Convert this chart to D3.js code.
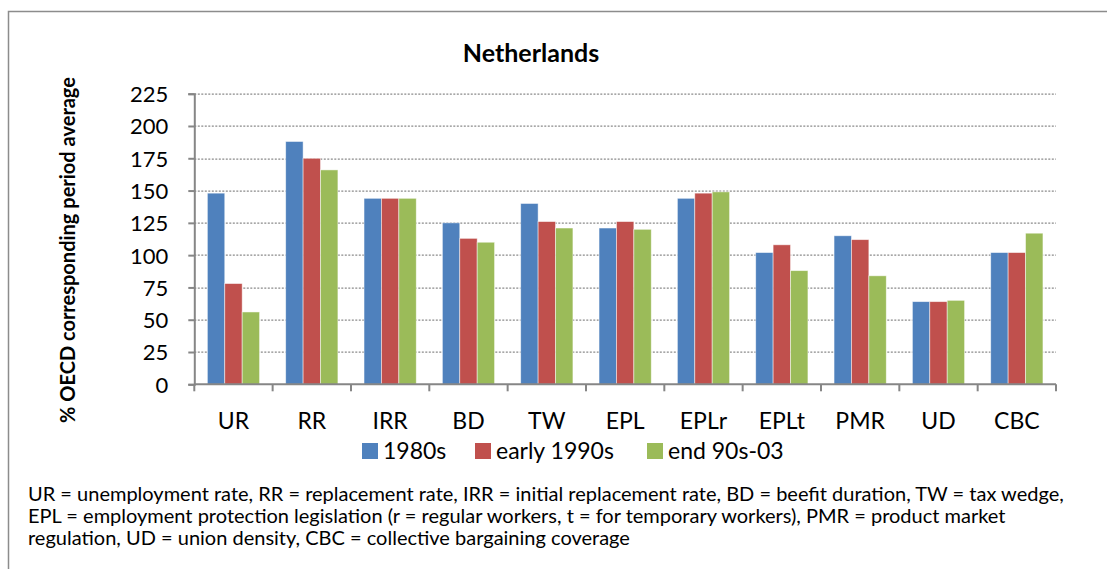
<!DOCTYPE html>
<html>
<head>
<meta charset="utf-8">
<script src="https://cdn.jsdelivr.net/npm/d3@7"></script>
<style>
  body { margin: 0; background: #fff; }
  svg text { font-family: Lato, "Open Sans", sans-serif; fill: #000; }
</style>
</head>
<body>
<div id="chart"></div>
<script>
// data
const categories = ['UR', 'RR', 'IRR', 'BD', 'TW', 'EPL', 'EPLr', 'EPLt', 'PMR', 'UD', 'CBC'];
const seriesNames = ['1980s', 'early 1990s', 'end 90s-03'];
const values1980s = [148, 188, 144, 125, 140, 121, 144, 102, 115, 64, 102];
const valuesEarly1990s = [78, 175, 144, 113, 126, 126, 148, 108, 112, 64, 102];
const valuesEnd90s = [56, 166, 144, 110, 121, 120, 149, 88, 84, 65, 117];
const yTicks = [0, 25, 50, 75, 100, 125, 150, 175, 200, 225];
const footnote = [
  'UR = unemployment rate, RR = replacement rate, IRR = initial replacement rate, BD = beefit duration, TW = tax wedge,',
  'EPL = employment protection legislation (r = regular workers, t = for temporary workers), PMR = product market',
  'regulation, UD = union density, CBC = collective bargaining coverage'
];

const config = {
  width: 1107,
  height: 569,
  margin: {top: 93.7, left: 194.3, right: 51, bottom: 184.7},
  colors: ['#4f81bd', '#c0504d', '#9bbb59']
};
config.innerW = config.width - config.margin.left - config.margin.right;
config.innerH = config.height - config.margin.top - config.margin.bottom;

const seriesValues = [values1980s, valuesEarly1990s, valuesEnd90s];
const rows = categories.map((c, i) => ({cat: c, vals: seriesValues.map(s => s[i])}));

const svg = d3.select('#chart').append('svg')
    .attr('width', config.width)
    .attr('height', config.height);

// outer frame (cut off at right and bottom in the original)
svg.append('rect')
    .attr('x', 8.5).attr('y', 11.5)
    .attr('width', 1120).attr('height', 600)
    .attr('fill', 'none')
    .attr('stroke', '#8c8c8c')
    .attr('stroke-width', 1.5);

const chart = svg.append('g')
    .attr('transform', `translate(${config.margin.left},${config.margin.top})`);

const x0 = d3.scaleBand().domain(categories).range([0, config.innerW]).paddingInner(0).paddingOuter(0);
// gap width 150% of a bar: 3 bars + 1.5 bar gap per category
const barW = x0.bandwidth() / 4.5;
const y = d3.scaleLinear().domain([0, 225]).range([config.innerH, 0]);

// gridlines
chart.append('g').selectAll('line')
  .data(yTicks.filter(d => d > 0))
  .join('line')
    .attr('x1', 0).attr('x2', config.innerW)
    .attr('y1', d => Math.round(y(d)) + 0.5).attr('y2', d => Math.round(y(d)) + 0.5)
    .attr('stroke', '#8a8a8a')
    .attr('stroke-width', 1.2)
    .attr('stroke-dasharray', '2,1.5');

// bars
const groups = chart.append('g').selectAll('g')
  .data(rows)
  .join('g')
    .attr('transform', d => `translate(${x0(d.cat) + barW * 0.75},0)`);

groups.selectAll('rect')
  .data(d => d.vals)
  .join('rect')
    .attr('x', (d, i) => i * barW)
    .attr('y', d => y(d))
    .attr('width', barW)
    .attr('height', d => config.innerH - y(d))
    .attr('fill', (d, i) => config.colors[i])
    .attr('stroke', 'rgba(255,255,255,0.6)')
    .attr('stroke-width', 0.8);

// y axis
const yAxis = chart.append('g')
    .call(d3.axisLeft(y).tickValues(yTicks).tickSize(6).tickPadding(20));
yAxis.select('.domain').attr('stroke', '#868686').attr('stroke-width', 2);
yAxis.selectAll('.tick line').attr('stroke', '#868686').attr('stroke-width', 2);
yAxis.selectAll('.tick text').style('font-size', '22px').attr('dy', '0.36em');

// x axis with ticks between categories
const xAxisG = chart.append('g').attr('transform', `translate(0,${config.innerH})`);
xAxisG.append('line')
    .attr('x1', 0).attr('x2', config.innerW)
    .attr('y1', 0).attr('y2', 0)
    .attr('stroke', '#868686').attr('stroke-width', 2);
xAxisG.selectAll('.xtick')
  .data(d3.range(categories.length + 1))
  .join('line')
    .attr('class', 'xtick')
    .attr('x1', i => i * x0.step()).attr('x2', i => i * x0.step())
    .attr('y1', 0).attr('y2', 7)
    .attr('stroke', '#868686').attr('stroke-width', 2);
xAxisG.selectAll('.xlabel')
  .data(categories)
  .join('text')
    .attr('class', 'xlabel')
    .attr('x', d => x0(d) + x0.bandwidth() / 2)
    .attr('y', 45)
    .attr('text-anchor', 'middle')
    .style('font-size', '23px')
    .text(d => d);

// title
svg.append('text')
    .attr('x', 531).attr('y', 62)
    .attr('text-anchor', 'middle')
    .style('font-size', '25px')
    .style('font-weight', 'bold')
    .text('Netherlands');

// y axis title
svg.append('text')
    .attr('transform', 'translate(75,250) rotate(-90)')
    .attr('text-anchor', 'middle')
    .style('font-size', '20px')
    .style('font-weight', 'bold')
    .text('% OECD corresponding period average');

// legend
const legendX = [362, 475, 647];
const legend = svg.append('g').selectAll('g')
  .data(seriesNames)
  .join('g')
    .attr('transform', (d, i) => `translate(${legendX[i]},443)`);
legend.append('rect')
    .attr('width', 16).attr('height', 16)
    .attr('fill', (d, i) => config.colors[i]);
legend.append('text')
    .attr('x', 21).attr('y', 16)
    .style('font-size', '23px')
    .text(d => d);

// footnote
svg.append('g').selectAll('text')
  .data(footnote)
  .join('text')
    .attr('x', 28)
    .attr('y', (d, i) => 501 + i * 22)
    .style('font-size', '20px')
    .text(d => d);
</script>
</body>
</html>
